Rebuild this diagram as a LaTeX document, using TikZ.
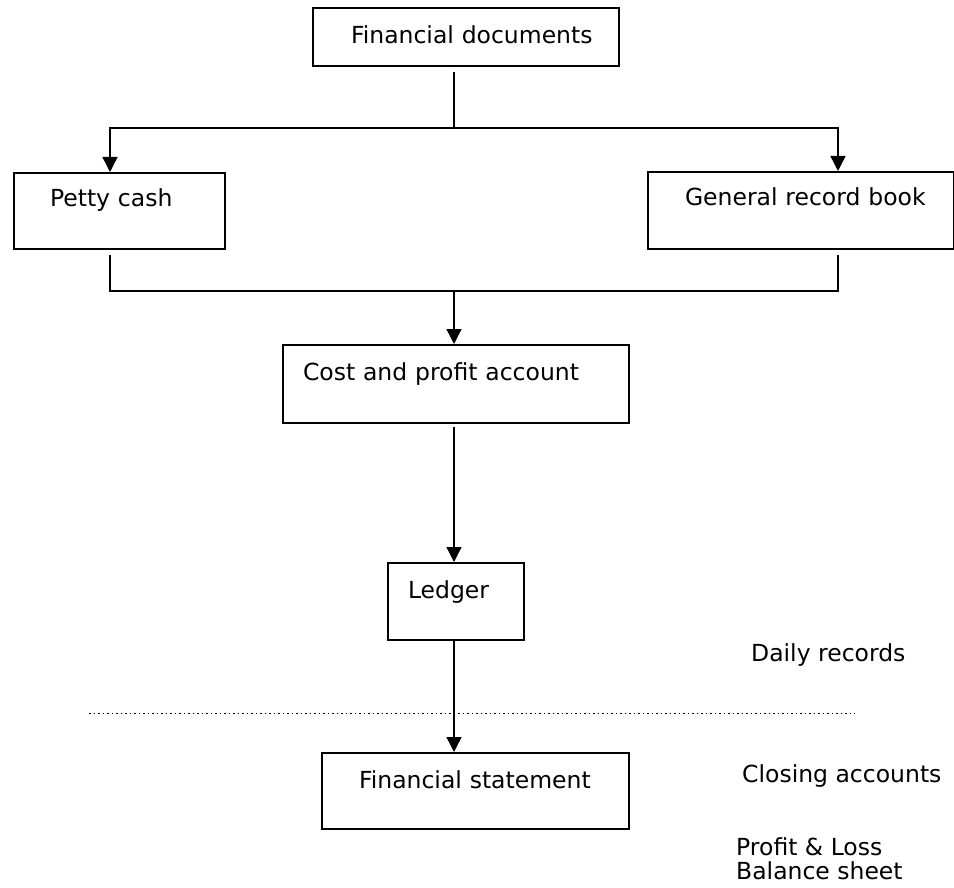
\documentclass[tikz,border=0pt]{standalone}
\usepackage{fontspec}
\setmainfont{DejaVu Sans}
\usetikzlibrary{arrows.meta,positioning,calc}

\begin{document}
\begin{tikzpicture}[
    x=1pt, y=-1pt,
    every node/.style={font=\fontsize{23.5}{28}\selectfont},
    box/.style={rectangle, draw, line width=2pt, anchor=north west, inner sep=0pt, align=left},
    boxsize/.style n args={4}{text width=#1pt, text height=#2pt, text depth=#3pt,
        execute at begin node={\hspace*{#4pt}}},
    link/.style={line width=1.4pt},
    arr/.style={link, -{Triangle[width=15pt,length=15pt]}},
    note/.style={anchor=base west, inner sep=0pt}
]
    \useasboundingbox (0,0) rectangle (954,888);

    % Source documents
    \node[box, boxsize={306}{36}{22}{38}] (docs) at (312,7) {Financial documents};

    % Books of first entry
    \node[box, boxsize={211}{34}{42}{36}] (petty) at (13,172) {Petty cash};
    \node[box, boxsize={306}{34}{43}{37}] (general) at (647,171) {General record book};

    % Accounts
    \node[box, boxsize={346}{35}{43}{20}] (cost) at (282,344) {Cost and profit account};
    \node[box, boxsize={136}{35}{42}{20}] (ledger) at (387,562) {Ledger};
    \node[box, boxsize={307}{35}{41}{37}] (fin) at (321,752) {Financial statement};

    % Side notes
    \node[note] (daily) at (751,661) {Daily records};
    \node[note] (closing) at (742,782) {Closing accounts};
    \node[note] (profit) at (736,855) {Profit \& Loss};
    \node[note] (balance) at (736,879) {Balance sheet};

    % Branch and merge points
    \coordinate (split) at (454,128);
    \coordinate (lx) at (110,128);
    \coordinate (rx) at (838,128);
    \coordinate (merge) at (454,291);
    \coordinate (sepL) at (89,713);
    \coordinate (sepR) at (855,713);

    \draw[link, shorten <=5pt] (docs.south -| split) -- (split);
    \draw[arr] (split) -| (petty.north -| lx);
    \draw[arr] (split) -| (general.north -| rx);

    \draw[link, shorten <=5pt] (petty.south -| lx) |- (merge);
    \draw[link, shorten <=5pt] (general.south -| rx) |- (merge);
    \draw[arr] (merge) -- (cost.north -| merge);

    \draw[arr, shorten <=3pt] (cost.south -| merge) -- (ledger.north -| merge);
    \draw[arr] (ledger.south -| merge) -- (fin.north -| merge);

    % Daily records / closing accounts divider
    \draw[line width=1pt, dash pattern=on 1.5pt off 3pt] (sepL) -- (sepR);
\end{tikzpicture}
\end{document}
